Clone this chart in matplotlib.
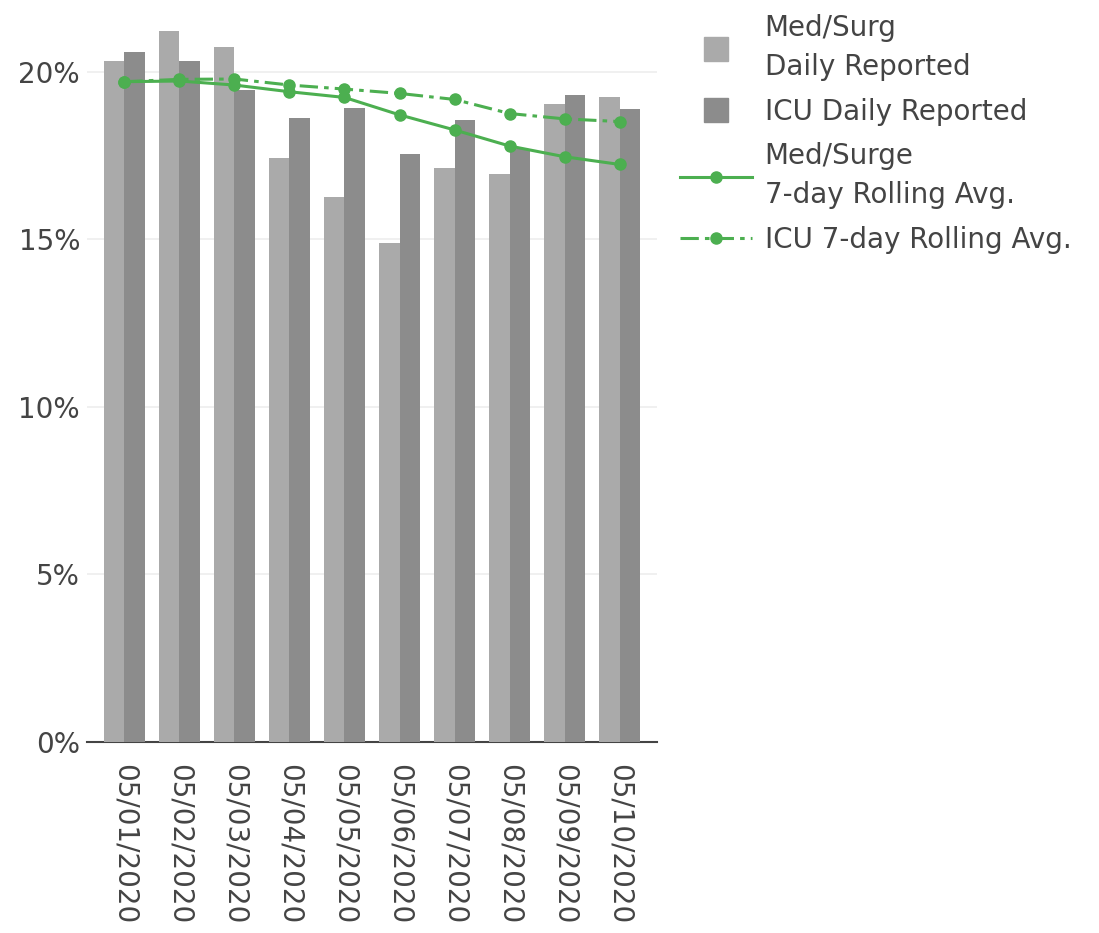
import numpy as np
import matplotlib
matplotlib.use('Agg')
import matplotlib.pyplot as plt
from matplotlib.lines import Line2D
from matplotlib.ticker import FuncFormatter

dates = ['05/01/2020', '05/02/2020', '05/03/2020', '05/04/2020', '05/05/2020',
         '05/06/2020', '05/07/2020', '05/08/2020', '05/09/2020', '05/10/2020']
medsurg_daily = [20.33, 21.23, 20.75, 17.44, 16.28, 14.90, 17.14, 16.95, 19.03, 19.24]
icu_daily = [20.60, 20.33, 19.45, 18.64, 18.92, 17.54, 18.57, 17.70, 19.31, 18.90]
medsurg_avg = [19.71, 19.73, 19.61, 19.41, 19.24, 18.72, 18.27, 17.79, 17.47, 17.24]
icu_avg = [19.71, 19.78, 19.79, 19.61, 19.49, 19.36, 19.18, 18.76, 18.60, 18.52]

light = '#aaaaaa'
dark = '#8c8c8c'
green = '#4caf50'
txt = '#444444'
dashdot = (0, (6, 2, 1.5, 2))

fig = plt.figure(figsize=(10.99, 9.33), dpi=100)
ax = fig.add_axes([87/1099, (933-742)/933, (657-87)/1099, (742-10)/933])

x = np.arange(len(dates))
w = 0.38
ax.bar(x - w/2, medsurg_daily, w, color=light, zorder=2)
ax.bar(x + w/2, icu_daily, w, color=dark, zorder=2)
ax.plot(x, medsurg_avg, color=green, lw=2.2, marker='o', ms=8, zorder=4)
ax.plot(x, icu_avg, color=green, lw=2.2, marker='o', ms=8, zorder=4, linestyle=dashdot)

ax.set_xlim(-0.68, 9.68)
ax.set_ylim(0, 21.85)
ax.set_yticks([0, 5, 10, 15, 20])
ax.yaxis.set_major_formatter(FuncFormatter(lambda v, p: '%d%%' % v))
ax.set_xticks(x)
ax.set_xticklabels(dates, rotation=-90, va='top', ha='center')
ax.tick_params(axis='x', length=0, pad=16, labelsize=20, labelcolor=txt)
ax.tick_params(axis='y', length=0, pad=5, labelsize=20, labelcolor=txt)
ax.grid(axis='y', color='#eeeeee', lw=1.2, zorder=0)
ax.set_axisbelow(True)
for s in ['top', 'right', 'left']:
    ax.spines[s].set_visible(False)
ax.spines['bottom'].set_color(txt)
ax.spines['bottom'].set_linewidth(1.5)
ax.spines['bottom'].set_zorder(1)

handles = [
    Line2D([], [], color=light, marker='s', ms=17, linestyle='none'),
    Line2D([], [], color=dark, marker='s', ms=17, linestyle='none'),
    Line2D([], [], color=green, lw=2.2, marker='o', ms=8),
    Line2D([], [], color=green, lw=2.2, marker='o', ms=8, linestyle=dashdot),
]
labels = ['Med/Surg\nDaily Reported', 'ICU Daily Reported',
          'Med/Surge\n7-day Rolling Avg.', 'ICU 7-day Rolling Avg.']
leg = fig.legend(handles, labels, loc='upper left', bbox_to_anchor=(680/1099, 1 - 14/933),
                 frameon=False, fontsize=20, handlelength=2.6, handletextpad=0.45,
                 labelspacing=0.6, borderpad=0, borderaxespad=0)
for t in leg.get_texts():
    t.set_color(txt)
    t.set_linespacing(1.5)

fig.savefig('out.png', dpi=100)
